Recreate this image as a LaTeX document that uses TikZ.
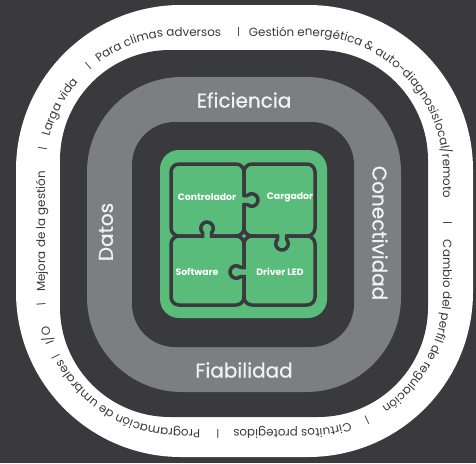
\documentclass[tikz,border=0pt]{standalone}
\usepackage{fontspec}
\setmainfont{Poppins}
\newfontfamily\medfont{Poppins}[FakeBold=0.7]
\usetikzlibrary{decorations.text}
\definecolor{bg}{RGB}{58,58,62}
\definecolor{ringgray}{RGB}{124,127,127}
\definecolor{grn}{RGB}{90,188,122}
\definecolor{lbl}{RGB}{242,242,242}
\newcommand\ringpath{(45,-232) -- (45,-171) arc[start angle=180,end angle=90,radius=135] -- (308,-36) arc[start angle=90,end angle=0,radius=135] -- (443,-294) arc[start angle=0,end angle=-90,radius=135] -- (180,-429) arc[start angle=-90,end angle=-180,radius=135] -- (45,-171) arc[start angle=180,end angle=90,radius=135] -- (308,-36)}
\newcommand\ringtxt[2]{\path[decorate, decoration={text along path, text color=bg, text={|\fontsize{11.9}{13}\selectfont|#2}, text align={left indent=#1pt}}] \ringpath;}
\newcommand\sepbar{{\raisebox{1pt}{\fontsize{10}{10}\selectfont\textbar}}}
\newcommand\pzknob[3]{\begin{scope}[shift={(#1,#2)},rotate=#3]
\fill[grn] (-4.5,-2.2) -- (-4.5,3.4) arc[start angle=223.9,end angle=-43.9,radius=6.25] -- (4.5,-2.2) -- cycle;
\draw[bg,line width=3.5pt] (-4.5,-1.75) -- (-4.5,3.4) arc[start angle=223.9,end angle=-43.9,radius=6.25] -- (4.5,-1.75);
\end{scope}}
\tikzset{
  piece/.style={draw=bg, line width=3.5pt, fill=grn, rounded corners=8pt},
  plbl/.style={text=white, font=\bfseries\fontsize{9.3}{10}\selectfont, inner sep=0pt},
  rlbl/.style={text=lbl, font=\medfont\fontsize{20}{22}\selectfont, inner sep=0pt}
}
\begin{document}
\begin{tikzpicture}[x=1pt,y=1pt]
\fill[bg] (0,0) rectangle (476,-463);
\useasboundingbox (0,0) rectangle (476,-463);
% rings
\fill[white, rounded corners=165pt] (16,-5) rectangle (473,-457);
\fill[bg, rounded corners=110pt] (60,-50) rectangle (428,-417);
\fill[ringgray, rounded corners=95pt] (87,-77) rectangle (401,-392);
\fill[bg, rounded corners=43pt] (132,-122) rectangle (354,-347);
\fill[grn, rounded corners=19pt] (160,-150) rectangle (327,-318);
% puzzle pieces
\path[piece] (171,-164) rectangle (244,-236);
\path[piece] (244,-164) rectangle (315,-236);
\path[piece] (171,-236) rectangle (244,-305);
\path[piece] (244,-236) rectangle (315,-305);
\pzknob{244}{-200}{-90}
\pzknob{207}{-236}{0}
\pzknob{282}{-236}{180}
\pzknob{244}{-272}{90}
\node[plbl] (ctrl) at (207,-197.5) {Controlador};
\node[plbl] (carg) at (290,-197.5) {Cargador};
\node[plbl] (soft) at (197,-272) {Software};
\node[plbl] (drv) at (280,-272) {Driver LED};
% gray ring labels
\node[rlbl] (efi) at (244,-100) {Eficiencia};
\node[rlbl] (fia) at (244,-370) {Fiabilidad};
\node[rlbl, rotate=90] (dat) at (106,-232) {Datos};
\node[rlbl, rotate=-90] (con) at (380,-233) {Conectividad};
% outer ring text
\ringtxt{81.3}{\sepbar}
\ringtxt{95.4}{Larga vida}
\ringtxt{174.6}{\sepbar}
\ringtxt{186.3}{Para climas adversos}
\ringtxt{330.2}{\sepbar}
\ringtxt{342}{Gestión energética {\&} auto-diagnosislocal/remoto}
\ringtxt{663.7}{\sepbar}
\ringtxt{682.1}{Cambio del perfil de regulación}
\ringtxt{887.8}{\sepbar}
\ringtxt{905.5}{Cirtuitos protegidos}
\ringtxt{1036.8}{\sepbar}
\ringtxt{1056.2}{Programación de umbrales}
\ringtxt{1223.5}{\sepbar}
\ringtxt{1238.4}{I/O}
\ringtxt{1276.5}{\sepbar}
\ringtxt{1290.5}{Mejora de la gestión}
\end{tikzpicture}
\end{document}
